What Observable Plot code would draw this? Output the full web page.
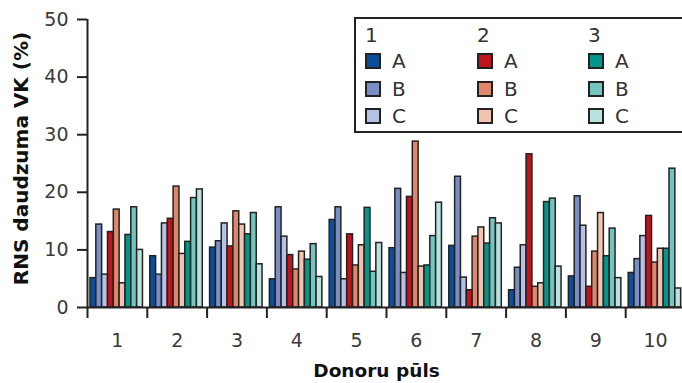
<!DOCTYPE html>
<html>
<head>
<meta charset="utf-8">
<script src="https://cdn.jsdelivr.net/npm/d3@7"></script>
<script src="https://cdn.jsdelivr.net/npm/@observablehq/plot@0.6"></script>
<style>
  body { margin: 0; background: #fff; }
  #chart { position: relative; width: 682px; height: 383px; overflow: hidden; font-family: "DejaVu Sans", sans-serif; }
  #chart svg { display: block; overflow: hidden; }
  .legend { position: absolute; left: 354px; top: 17px; width: 360px; height: 116px; border: 2px solid #222; box-sizing: border-box; background: #fff; color: #333; font-size: 20px; }
  .legend .col { position: absolute; top: 0; }
  .legend .head { position: absolute; top: 4px; left: 0; line-height: 24px; }
  .legend .row { position: absolute; left: 0; display: flex; align-items: center; height: 24px; white-space: nowrap; }
  .legend .sw { width: 16px; height: 16px; border: 2px solid #222; box-sizing: border-box; margin-right: 11px; }
</style>
</head>
<body>
<div id="chart"></div>
<script>
// Donor pools on the x axis
const donors = ["1", "2", "3", "4", "5", "6", "7", "8", "9", "10"];
// Legend groups and letters
const groups = ["1", "2", "3"];
const letters = ["A", "B", "C"];
// Series drawn in each pool, in order
const series = ["1A", "1B", "1C", "2A", "2B", "2C", "3A", "3B", "3C"];
const colors = ["#0b4f9b", "#7a8ec6", "#b7c1e3", "#c0141d", "#df876b", "#f2c3af", "#009689", "#73c5c0", "#bae3df"];
const yTicks = [0, 10, 20, 30, 40, 50];

// RNS daudzuma VK (%) per series, one value per donor pool
const v1A = [5.1, 8.9, 10.4, 4.9, 15.2, 10.3, 10.7, 3.0, 5.4, 6.0];
const v1B = [14.4, 5.7, 11.5, 17.4, 17.4, 20.6, 22.7, 6.9, 19.3, 8.4];
const v1C = [5.7, 14.6, 14.6, 12.3, 4.9, 6.0, 5.2, 10.8, 14.2, 12.4];
const v2A = [13.1, 15.4, 10.6, 9.1, 12.7, 19.2, 3.0, 26.6, 3.6, 15.9];
const v2B = [17.0, 21.0, 16.7, 6.6, 7.3, 28.8, 12.3, 3.6, 9.7, 7.8];
const v2C = [4.2, 9.3, 14.4, 9.7, 10.8, 7.1, 13.9, 4.2, 16.4, 10.2];
const v3A = [12.6, 11.4, 12.7, 8.3, 17.3, 7.3, 11.1, 18.3, 8.9, 10.2];
const v3B = [17.4, 19.0, 16.4, 11.0, 6.2, 12.4, 15.5, 18.9, 13.7, 24.1];
const v3C = [10.0, 20.5, 7.5, 5.3, 11.2, 18.2, 14.6, 7.1, 5.1, 3.3];

const valuesBySeries = [v1A, v1B, v1C, v2A, v2B, v2C, v3A, v3B, v3C];

// Grouped bars: each pool takes one unit on x, bars sit side by side inside it
const inset = 0.05;
const barW = 0.0975;
const table = donors.flatMap((d, i) =>
  series.map((s, k) => ({donor: i, k, series: s, value: valuesBySeries[k][i]}))
);

const chart = Plot.plot({
  width: 682,
  height: 383,
  marginLeft: 87,
  marginRight: -3,
  marginTop: 19,
  marginBottom: 76,
  style: {fontFamily: "DejaVu Sans, sans-serif", fontSize: "19px", color: "#222", background: "#fff"},
  x: {domain: [0, donors.length]},
  y: {domain: [0, 50]},
  color: {domain: series, range: colors},
  marks: [
    Plot.rect(table, {
      x1: d => d.donor + inset + d.k * barW,
      x2: d => d.donor + inset + (d.k + 1) * barW,
      y1: () => 0,
      y2: "value",
      fill: "series",
      stroke: "#222",
      strokeWidth: 1.5
    }),
    Plot.ruleY([0], {stroke: "#222", strokeWidth: 2}),
    Plot.ruleX([0], {stroke: "#222", strokeWidth: 2}),
    Plot.axisY({ticks: yTicks, tickSize: 10, tickPadding: 9, strokeWidth: 2, fill: "#3a3a3a", label: null}),
    Plot.axisX({ticks: d3.range(0, donors.length), tickSize: 11, strokeWidth: 2, tickFormat: () => "", label: null}),
    Plot.axisX({
      ticks: donors.map((d, i) => i + 0.5),
      tickSize: 0,
      tickPadding: 26,
      fill: "#3a3a3a",
      tickFormat: v => donors[Math.floor(v)],
      label: null
    }),
    Plot.text(["Donoru pūls"], {frameAnchor: "bottom", dx: -10, dy: 69, fontWeight: "bold", fontSize: 18.5, fill: "#111"}),
    Plot.text(["RNS daudzuma VK (%)"], {frameAnchor: "left", textAnchor: "middle", rotate: -90, dx: -66, dy: -5, fontWeight: "bold", fontSize: 20, fill: "#111"})
  ]
});

const root = document.getElementById("chart");
root.appendChild(chart);

// Legend: one column per group, one row per letter
const legend = document.createElement("div");
legend.className = "legend";
const colLeft = [9, 121, 232];
const rowTop = [30, 58, 85];
groups.forEach((g, gi) => {
  const col = document.createElement("div");
  col.className = "col";
  col.style.left = colLeft[gi] + "px";
  const head = document.createElement("div");
  head.className = "head";
  head.textContent = g;
  col.appendChild(head);
  letters.forEach((l, li) => {
    const row = document.createElement("div");
    row.className = "row";
    row.style.top = rowTop[li] + "px";
    const sw = document.createElement("span");
    sw.className = "sw";
    sw.style.background = colors[gi * 3 + li];
    const lab = document.createElement("span");
    lab.textContent = l;
    row.appendChild(sw);
    row.appendChild(lab);
    col.appendChild(row);
  });
  legend.appendChild(col);
});
root.appendChild(legend);
</script>
</body>
</html>
